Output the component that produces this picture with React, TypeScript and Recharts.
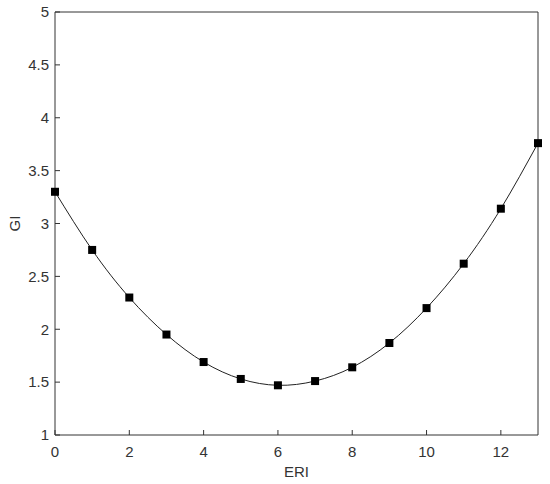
import { Line, LineChart, XAxis, YAxis } from "recharts";

const eri = [0, 1, 2, 3, 4, 5, 6, 7, 8, 9, 10, 11, 12, 13];
const gi = [3.3, 2.75, 2.3, 1.95, 1.69, 1.53, 1.47, 1.51, 1.64, 1.87, 2.2, 2.62, 3.14, 3.76];
const xTicks = [0, 2, 4, 6, 8, 10, 12];
const yTicks = [1, 1.5, 2, 2.5, 3, 3.5, 4, 4.5, 5];

const data = eri.map((x, i) => ({ eri: x, gi: gi[i] }));

const ink = "#333";
const fontFamily = "Liberation Sans, Arial, sans-serif";
const tickFont = { fontSize: 15, fill: ink, fontFamily, style: { fontSize: 15 } };

const SquareDot = (props: any) => {
  const { cx, cy } = props;
  if (cx == null || cy == null) return null;
  return <rect x={cx - 4} y={cy - 4} width={8} height={8} fill="#000" />;
};

const GiLabel = (props: any) => {
  const vb = props.viewBox || {};
  const x = vb.x + 20;
  const y = vb.y + vb.height / 2;
  return (
    <text x={x} y={y} transform={`rotate(-90, ${x}, ${y})`} textAnchor="middle" fontSize={15} fill={ink} fontFamily={fontFamily}>
      GI
    </text>
  );
};

export default function App() {
  return (
    <>
      <style>{`body{margin:0}`}</style>
      <LineChart width={550} height={484} data={data} margin={{ top: 11, right: 11, bottom: 0, left: 0 }}>
        <XAxis
          dataKey="eri"
          type="number"
          domain={[0, 13]}
          ticks={xTicks}
          height={49}
          stroke={ink}
          tickSize={-5}
          tickMargin={16}
          tick={tickFont}
          label={{ value: "ERI", position: "insideBottom", offset: 7, fontSize: 15, fill: ink, fontFamily }}
        />
        <XAxis xAxisId="top" orientation="top" type="number" domain={[0, 13]} ticks={xTicks} height={1} stroke={ink} tickSize={-5} tick={false} />
        <YAxis
          type="number"
          domain={[1, 5]}
          ticks={yTicks}
          width={55}
          stroke={ink}
          tickSize={-5}
          tickMargin={11}
          tick={tickFont}
          label={{ content: <GiLabel /> }}
        />
        <YAxis yAxisId="right" orientation="right" type="number" domain={[1, 5]} ticks={yTicks} width={1} stroke={ink} tickSize={-5} tick={false} />
        <Line
          dataKey="gi"
          type="natural"
          stroke="#222"
          strokeWidth={1}
          dot={<SquareDot />}
          activeDot={false}
          isAnimationActive={false}
        />
      </LineChart>
    </>
  );
}
